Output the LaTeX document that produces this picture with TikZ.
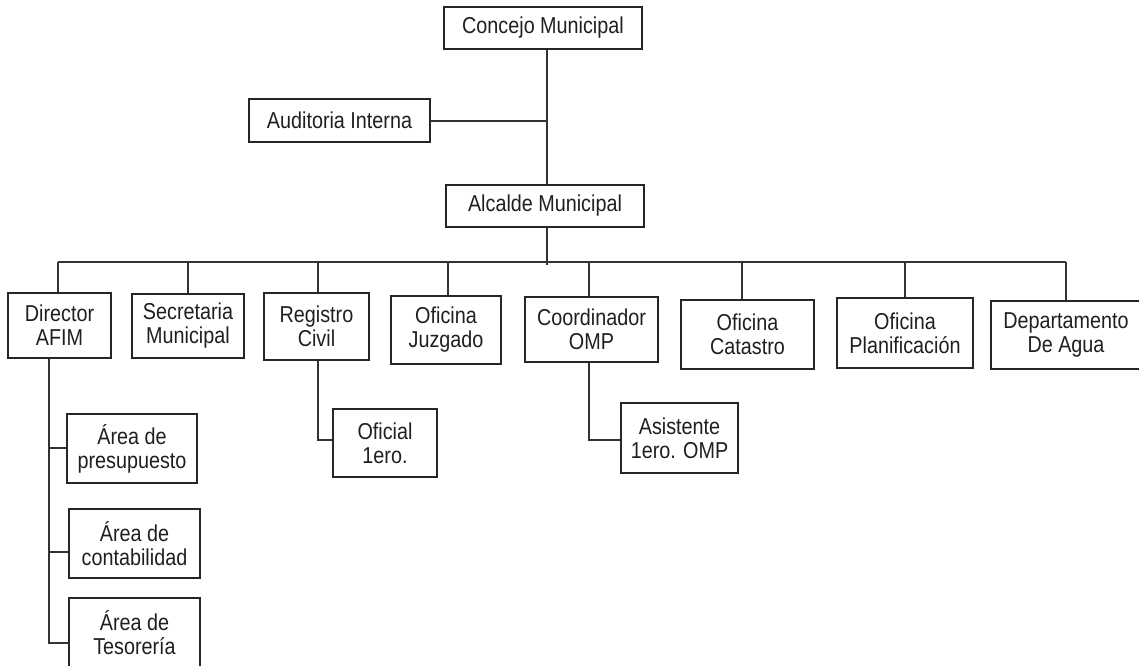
\documentclass[tikz,border=0pt]{standalone}
\usepackage{fontspec}
\setmainfont[FakeStretch=0.86]{Liberation Sans}
\begin{document}
\begin{tikzpicture}[x=1pt,y=-1pt,
  box/.style={draw=black!85, line width=1.2pt, inner sep=0pt, align=center,
    text=black!88, font=\fontsize{23}{24}\selectfont},
  conn/.style={draw=black!80, line width=1.2pt}]
\useasboundingbox (0,0) rectangle (1139,665);
\clip (0,0) rectangle (1139,665);
% top
\node[box, minimum width=198pt, minimum height=42pt] (concejo) at (543,28) {Concejo Municipal};
\node[box, minimum width=181pt, minimum height=43pt] (auditoria) at (339.5,120.5) {Auditoria Interna};
\node[box, minimum width=198pt, minimum height=42pt] (alcalde) at (545,206) {Alcalde Municipal};
% second row
\node[box, minimum width=103pt, minimum height=65pt] (director) at (59.5,325.5) {Director\\AFIM};
\node[box, minimum width=112pt, minimum height=64pt] (secretaria) at (188,326) {Secretaria\\Municipal};
\node[box, minimum width=105pt, minimum height=67pt] (registro) at (316.5,326.5) {Registro\\Civil};
\node[box, minimum width=110pt, minimum height=68pt] (juzgado) at (446,330) {Oficina\\Juzgado};
\node[box, minimum width=133pt, minimum height=65pt] (coordinador) at (591.5,329.5) {Coordinador\\OMP};
\node[box, minimum width=133pt, minimum height=69pt] (catastro) at (747.5,334.5) {Oficina\\Catastro};
\node[box, minimum width=136pt, minimum height=70pt] (planificacion) at (905,333) {Oficina\\Planificación};
\node[box, minimum width=150pt, minimum height=68pt] (departamento) at (1066,335) {Departamento\\De Agua};
% sub boxes
\node[box, minimum width=104pt, minimum height=68pt] (oficial) at (385,443) {Oficial\\1ero.};
\node[box, minimum width=117pt, minimum height=70pt] (asistente) at (679.5,438) {Asistente\\1ero. OMP};
\node[box, minimum width=130pt, minimum height=69pt] (presupuesto) at (132,448.5) {Área de\\presupuesto};
\node[box, minimum width=131pt, minimum height=69pt] (contabilidad) at (134.5,543.5) {Área de\\contabilidad};
\node[box, minimum width=131pt, minimum height=69pt] (tesoreria) at (134.5,632.5) {Área de\\Tesorería};
% trunk
\coordinate (trunk) at (547,121);
\coordinate (busend) at (547,265);
\draw[conn] (concejo.south -| trunk) -- (alcalde.north -| trunk);
\draw[conn] (auditoria.east |- trunk) -- (trunk);
\draw[conn] (alcalde.south -| busend) -- (busend);
% bus
\coordinate (d1) at (58,262);
\coordinate (d2) at (188,262);
\coordinate (d3) at (318,262);
\coordinate (d4) at (448,262);
\coordinate (d5) at (589,262);
\coordinate (d6) at (742,262);
\coordinate (d7) at (905,262);
\coordinate (d8) at (1066,262);
\draw[conn] (d1) -- (d8);
\draw[conn] (d1) -- (d1 |- director.north);
\draw[conn] (d2) -- (d2 |- secretaria.north);
\draw[conn] (d3) -- (d3 |- registro.north);
\draw[conn] (d4) -- (d4 |- juzgado.north);
\draw[conn] (d5) -- (d5 |- coordinador.north);
\draw[conn] (d6) -- (d6 |- catastro.north);
\draw[conn] (d7) -- (d7 |- planificacion.north);
\draw[conn] (d8) -- (d8 |- departamento.north);
% registro -> oficial
\coordinate (r1) at (318,440);
\draw[conn] (r1 |- registro.south) -- (r1) -- (r1 -| oficial.west);
% coordinador -> asistente
\coordinate (a1) at (589,440);
\draw[conn] (a1 |- coordinador.south) -- (a1) -- (a1 -| asistente.west);
% director -> areas
\coordinate (p1) at (49,448);
\coordinate (p2) at (49,552);
\coordinate (p3) at (49,643);
\draw[conn] (p1 |- director.south) -- (p3) -- (p3 -| tesoreria.west);
\draw[conn] (p1) -- (p1 -| presupuesto.west);
\draw[conn] (p2) -- (p2 -| contabilidad.west);
\end{tikzpicture}
\end{document}
